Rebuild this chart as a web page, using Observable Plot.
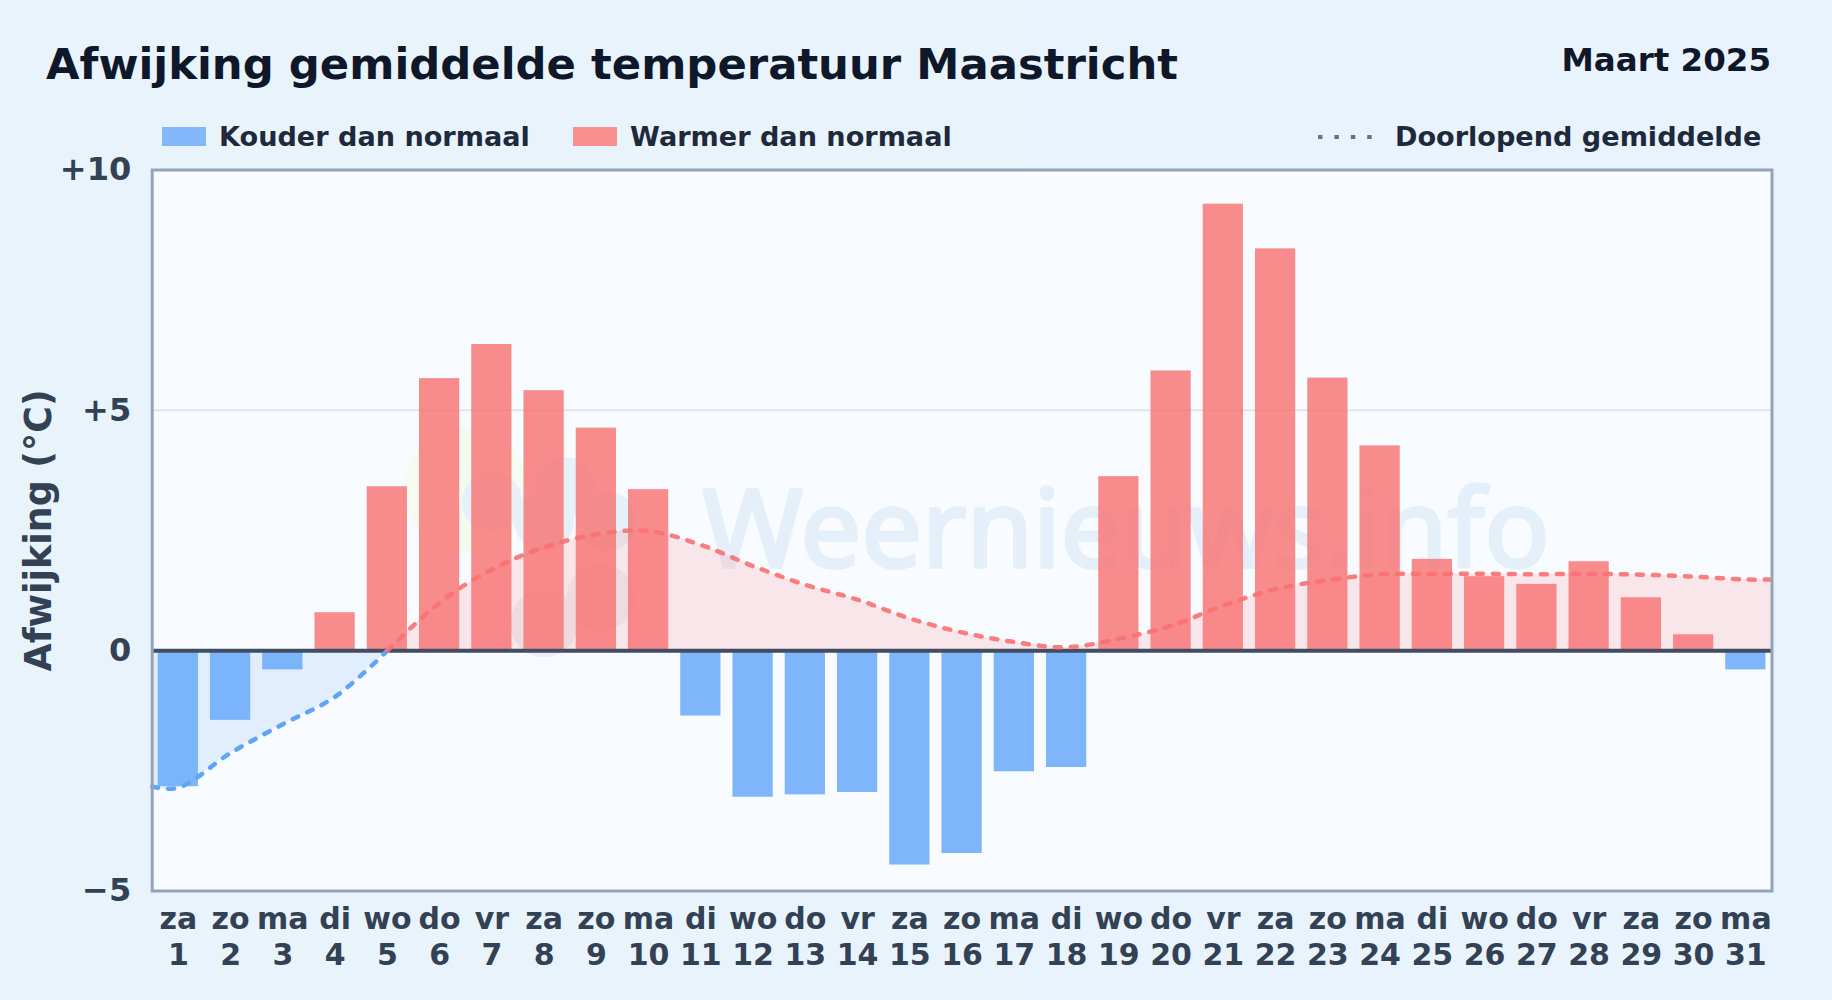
<!DOCTYPE html>
<html><head><meta charset="utf-8">
<script src="https://cdn.jsdelivr.net/npm/d3@7"></script>
<script src="https://cdn.jsdelivr.net/npm/@observablehq/plot@0.6"></script>
<style>
html,body{margin:0;padding:0;width:1832px;height:1000px;overflow:hidden;background:linear-gradient(90deg,#e8f3fc,#e9f3fd);font-family:"DejaVu Sans",sans-serif;font-weight:700}
#wrap{position:relative;width:1832px;height:1000px}
#wrap svg.chart{position:absolute;left:0;top:0}
.t{position:absolute;white-space:nowrap;line-height:1}
.sw{position:absolute;width:44px;height:19px;top:127px}
</style></head><body>
<div id="wrap">
<div class="t" style="left:46px;top:43px;font-size:43.35px;color:#0f172a" id="title">Afwijking gemiddelde temperatuur Maastricht</div>
<div class="t" style="right:61px;top:44px;font-size:32.5px;color:#0f172a" id="sub">Maart 2025</div>
<div class="sw" style="left:162px;background:#82b7fb"></div>
<div class="t" style="left:219px;top:123px;font-size:27.1px;color:#1e293b">Kouder dan normaal</div>
<div class="sw" style="left:573px;background:#f98f8f"></div>
<div class="t" style="left:630px;top:123px;font-size:27.1px;color:#1e293b">Warmer dan normaal</div>
<svg style="position:absolute;left:1316px;top:130px" width="60" height="14"><line x1="2" x2="58" y1="7" y2="7" stroke="#64748b" stroke-width="4" stroke-dasharray="4.5 11.9"/></svg>
<div class="t" style="left:1395px;top:123px;font-size:27.1px;color:#1e293b">Doorlopend gemiddelde</div>
</div>
<script>
const days = d3.range(1, 32);
const weekdays = ["za","zo","ma","di","wo","do","vr","za","zo","ma","di","wo","do","vr","za","zo","ma","di","wo","do","vr","za","zo","ma","di","wo","do","vr","za","zo","ma"];
const deviation = [-2.83,-1.45,-0.40,0.79,3.41,5.66,6.37,5.41,4.63,3.35,-1.36,-3.05,-3.0,-2.95,-4.46,-4.22,-2.52,-2.43,3.62,5.82,9.29,8.36,5.67,4.26,1.9,1.54,1.38,1.85,1.1,0.33,-0.40];
const meanX = [0.5,...days,31.5];
const meanY = [-2.83,-2.85,-2.13,-1.53,-0.96,0,1.0,1.69,2.15,2.42,2.49,2.2,1.76,1.37,1.06,0.67,0.38,0.18,0.07,0.25,0.52,0.94,1.28,1.47,1.59,1.6,1.6,1.59,1.6,1.58,1.54,1.48,1.48];
const yTicks = [-5,0,5,10];
// faint logo behind the bars, in chart units
const logoSunX = [6.5];  const logoSunY = [3.35];
const logoSkyX = [7.0,8.4,9.2,8.0]; const logoSkyY = [3.1,3.4,2.7,2.7];
const logoRainX = [8.0,9.08]; const logoRainY = [0.57,1.11];
const bars = days.map((d,i)=>({d,v:deviation[i],wd:weekdays[i]}));
const mean = meanX.map((x,i)=>({x,y:meanY[i]}));
const cold = mean.filter(p=>p.x<=5), warm = mean.filter(p=>p.x>=5);
const BLUE="#60a5fa", RED="#f87171";
const fmtY = v => v>0?`+${v}`:v<0?`\u2212${-v}`:"0";
const logoDots=(X,Y,r,fill)=>Plot.dot(X.map((x,i)=>({x,y:Y[i]})),{x:"x",y:"y",r,fill,stroke:"none"});
const chart = Plot.plot({
  width:1832,height:1000,
  marginTop:169.5,marginBottom:109.5,marginLeft:151.7,marginRight:60.5,
  style:{background:"transparent",fontFamily:"DejaVu Sans, sans-serif",fontWeight:700,overflow:"visible"},
  x:{domain:[0.5,31.5],type:"linear"},
  y:{domain:[-5,10]},
  marks:[
    Plot.frame({fill:"#f8fbff",stroke:"none"}),
    Plot.ruleY([5],{stroke:"#e1e6ec",strokeWidth:2}),
    logoDots(logoSunX,logoSunY,62,"#f5fbf0"),
    logoDots(logoSkyX,logoSkyY,30,"#e6f0f9"),
    logoDots(logoRainX,logoRainY,34,"#ebeef4"),
    Plot.text(["Weernieuws.info"],{x:[19.14],y:[2.45],fontSize:107.7,fontWeight:400,fill:"#e5eff9",stroke:"#e5eff9",strokeWidth:3.5,fontFamily:"Noto Sans"}),
    Plot.areaY(cold,{x:"x",y1:0,y2:"y",fill:BLUE,fillOpacity:.15,curve:"catmull-rom"}),
    Plot.areaY(warm,{x:"x",y1:0,y2:"y",fill:RED,fillOpacity:.15,curve:"catmull-rom"}),
    Plot.rectY(bars,{x1:d=>d.d-.5,x2:d=>d.d+.5,y1:0,y2:"v",insetLeft:6,insetRight:6,fill:d=>d.v<0?BLUE:RED,fillOpacity:.8}),
    Plot.ruleY([0],{stroke:"#414d63",strokeWidth:4}),
    Plot.lineY(cold,{x:"x",y:"y",stroke:BLUE,strokeWidth:4.5,strokeDasharray:"6 10",strokeLinecap:"round",curve:"catmull-rom"}),
    Plot.lineY(warm,{x:"x",y:"y",stroke:RED,strokeWidth:4.5,strokeDasharray:"6 10",strokeLinecap:"round",curve:"catmull-rom",strokeOpacity:.9}),
    Plot.frame({stroke:"#94a3b8",strokeWidth:3}),
    Plot.axisY({ticks:yTicks,tickFormat:fmtY,tickSize:0,tickPadding:21,fontSize:32,fill:"#334155",label:null}),
    Plot.axisY({ticks:[],label:"Afwijking (°C)",labelAnchor:"center",labelArrow:"none",labelOffset:127,fontSize:36.4,fill:"#334155"}),
    Plot.axisX({ticks:days,tickFormat:d=>`${weekdays[d-1]}\n${d}`,tickSize:0,tickPadding:12,fontSize:30,lineHeight:1.2,fill:"#334155",label:null,textOverflow:null})
  ]
});
chart.classList.add("chart");
document.getElementById("wrap").appendChild(chart);
</script>
</body></html>
